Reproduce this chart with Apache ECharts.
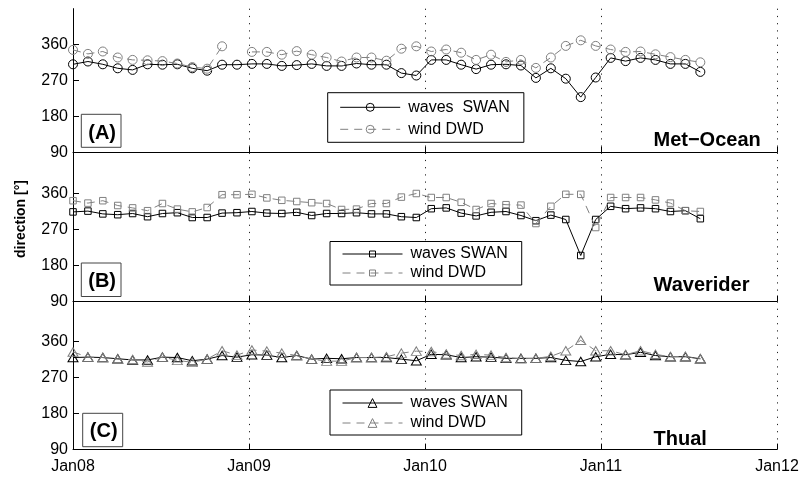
<!DOCTYPE html>
<html>
<head>
<meta charset="utf-8">
<script src="https://cdn.jsdelivr.net/npm/echarts@6/dist/echarts.min.js"></script>
<style>
  html, body { margin: 0; padding: 0; background: #fff; }
  #chart { width: 803px; height: 477px; }
</style>
</head>
<body>
<div id="chart"></div>
<script>
// Sampling dates of the monthly (31-day) direction means
const sampleDates = [
  '2008-01-01','2008-02-01','2008-03-03','2008-04-03','2008-05-04','2008-06-04','2008-07-05',
  '2008-08-05','2008-09-05','2008-10-06','2008-11-06','2008-12-07','2009-01-07','2009-02-07',
  '2009-03-10','2009-04-10','2009-05-11','2009-06-11','2009-07-12','2009-08-12','2009-09-12',
  '2009-10-13','2009-11-13','2009-12-14','2010-01-14','2010-02-14','2010-03-17','2010-04-17',
  '2010-05-18','2010-06-18','2010-07-19','2010-08-19','2010-09-19','2010-10-20','2010-11-20',
  '2010-12-21','2011-01-21','2011-02-21','2011-03-24','2011-04-24','2011-05-25','2011-06-25',
  '2011-07-26'
];
const yearTickLabels = ['Jan08', 'Jan09', 'Jan10', 'Jan11', 'Jan12'];
const directionTicks = [90, 180, 270, 360];

// Mean directions [deg]
const metOceanWaves = [311, 318, 311, 301, 297, 311, 310, 311, 301, 295, 310, 310, 312, 312, 307, 309, 312, 307, 307, 313, 310, 310,
                       289, 283, 322, 322, 310, 299, 310, 311, 308, 277, 301, 275, 229, 278, 327, 319, 327, 322, 312, 312, 292];
const metOceanWind  = [347, 337, 343, 328, 322, 321, 319, 313, 304, 300, 356, null, 342, 342, 335, 344, 335, 328, 318, 328, 328, 320,
                       350, 356, 343, 348, 340, 322, 335, 317, 322, 302, 328, 357, 371, 357, 348, 342, 343, 336, 329, 322, 316];

const waveriderWaves = [314, 316, 309, 307, 310, 302, 310, 312, 300, 300, 311, 312, 315, 311, 310, 313, 305, 310, 310, 312, 309, 309,
                        302, 300, 322, 324, 311, 304, 313, 315, 305, 292, 306, 295, 205, 295, 328, 322, 324, 322, 315, 317, 297];
const waveriderWind  = [342, 336, 342, 330, 324, 317, 335, 321, 314, 325, 357, 357, 358, 349, 343, 340, 337, 335, 320, 321, 335, 335,
                        351, 360, 350, 350, 338, 320, 335, 332, 331, 285, 328, 358, 358, 275, 350, 350, 350, 344, 336, 317, 315];

const thualWaves = [320, 321, 320, 317, 314, 314, 321, 320, 312, 316, 325, 321, 327, 326, 320, 325, 316, 318, 317, 320, 320, 320,
                    316, 312, 328, 327, 320, 322, 321, 318, 318, 318, 320, 313, 310, 322, 328, 327, 333, 325, 322, 322, 317];
const thualWind  = [334, 321, 320, 316, 315, 309, 321, 313, 308, 316, 337, 326, 339, 336, 331, 325, 316, 311, 311, 320, 320, 322,
                    331, 336, 335, 329, 325, 328, 326, 320, 317, 318, 323, 337, 363, 337, 337, 327, 337, 328, 322, 323, 317];

const panelNames = ['Met\u2212Ocean', 'Waverider', 'Thual'];
const panelTags = ['(A)', '(B)', '(C)'];
const wavesLabels = ['waves  SWAN', 'waves SWAN', 'waves SWAN'];
const windLabel = 'wind DWD';

// date string -> decimal year
function toYear(s) {
  const p = s.split('-').map(Number);
  const t0 = Date.UTC(p[0], 0, 1), t1 = Date.UTC(p[0] + 1, 0, 1);
  return p[0] + (Date.UTC(p[0], p[1] - 1, p[2]) - t0) / (t1 - t0);
}
const xs = sampleDates.map(toYear);
const pair = arr => arr.map((v, i) => [xs[i], v]);

const FONT = '"Liberation Sans", Arial, Helvetica, sans-serif';
const GREY = '#808080';

// panel layout
const panels = [
  { top: 8.7,   bottom: 152.7, yMax: 450, symbol: 'circle',   size: 9,        legendTop: 92.7, legendLeft: 327.7, lgap: 6, lpad: [6.6, 14, 5, 12], iconH: 10 },
  { top: 152.7, bottom: 301.5, yMax: 462, symbol: 'rect',     size: 6.5,      legendTop: 241.5, legendLeft: 330, lgap: 3, lpad: [4.5, 14, 4, 12], iconH: 7.5 },
  { top: 301.5, bottom: 449.6, yMax: 460, symbol: 'triangle', size: [10, 8.5], legendTop: 390, legendLeft: 330, lgap: 4, lpad: [5, 14, 4, 12], iconH: 11 }
];
const wavesData = [metOceanWaves, waveriderWaves, thualWaves];
const windData = [metOceanWind, waveriderWind, thualWind];

const grids = [], xAxes = [], yAxes = [], series = [], legends = [];
panels.forEach((p, i) => {
  grids.push({ left: 73, width: 704, top: p.top, height: p.bottom - p.top });
  xAxes.push({
    type: 'value', gridIndex: i, min: 2008, max: 2012, interval: 1,
    axisLine: { show: true, onZero: false, lineStyle: { color: '#000', width: 1 } },
    axisTick: { show: true, inside: true, length: 6, lineStyle: { color: '#000' } },
    axisLabel: {
      show: i === 2, color: '#000', fontFamily: FONT, fontSize: 16, margin: 9,
      formatter: v => yearTickLabels[Math.round(v - 2008)]
    },
    splitLine: { show: true, lineStyle: { color: '#222', width: 1, type: [1.2, 6] } }
  });
  yAxes.push({
    type: 'value', gridIndex: i, min: 90, max: p.yMax, interval: 90,
    axisLine: { show: true, lineStyle: { color: '#000', width: 1 } },
    axisTick: { show: true, inside: true, length: 6, customValues: directionTicks, lineStyle: { color: '#000' } },
    axisLabel: { color: '#000', fontFamily: FONT, fontSize: 16, margin: 5, customValues: directionTicks },
    splitLine: { show: false }
  });
  series.push({
    name: 'waves' + i, type: 'line', xAxisIndex: i, yAxisIndex: i,
    data: pair(wavesData[i]),
    symbol: p.symbol, symbolSize: p.size, showSymbol: true,
    lineStyle: { color: '#000', width: 1 },
    itemStyle: { color: 'rgba(0,0,0,0)', borderColor: '#000', borderWidth: 1 },
    emphasis: { disabled: true }, z: 2
  });
  series.push({
    name: 'wind' + i, type: 'line', xAxisIndex: i, yAxisIndex: i,
    data: pair(windData[i]), connectNulls: false,
    symbol: p.symbol, symbolSize: p.size, showSymbol: true,
    lineStyle: { color: GREY, width: 1, type: [8, 6] },
    itemStyle: { color: 'rgba(0,0,0,0)', borderColor: GREY, borderWidth: 1 },
    emphasis: { disabled: true }, z: 3
  });
  legends.push({
    data: ['waves' + i, 'wind' + i], orient: 'vertical',
    left: p.legendLeft, top: p.legendTop,
    padding: p.lpad, itemGap: p.lgap, itemWidth: 60, itemHeight: p.iconH,
    backgroundColor: '#fff', borderColor: '#000', borderWidth: 1, borderRadius: 0,
    selectedMode: false,
    lineStyle: { width: 1 },
    itemStyle: { borderWidth: 1 },
    formatter: name => name.startsWith('waves') ? wavesLabels[i] : windLabel,
    textStyle: { color: '#000', fontFamily: FONT, fontSize: 16, lineHeight: 16, padding: [0, 0, 0, 3] }
  });
});

// panel tags, station names, axis title
const tagBoxes = [
  { x: 81.3, y: 114.3, w: 39.7, h: 33, ty: 133.5 },
  { x: 81.3, y: 263, w: 39.7, h: 33.5, ty: 281.5 },
  { x: 82.7, y: 413.3, w: 40, h: 33.4, ty: 431.5 }
];
const nameY = [140.5, 285.5, 439.5];
const graphics = [];
tagBoxes.forEach((b, i) => {
  graphics.push({ type: 'rect', z: 50, shape: { x: b.x, y: b.y, width: b.w, height: b.h },
    style: { fill: '#fff', stroke: '#444', lineWidth: 1 } });
  graphics.push({ type: 'text', z: 51, x: b.x + b.w / 2 + 1, y: b.ty,
    style: { text: panelTags[i], font: 'bold 20px ' + FONT, fill: '#000', align: 'center', verticalAlign: 'middle' } });
  graphics.push({ type: 'text', z: 51, x: 653.5, y: nameY[i],
    style: { text: panelNames[i], font: 'bold 20px ' + FONT, fill: '#000', align: 'left', verticalAlign: 'middle' } });
});
graphics.push({ type: 'text', z: 51, x: 21, y: 219, rotation: Math.PI / 2,
  style: { text: 'direction [\u00b0]', font: 'bold 14px ' + FONT, fill: '#000', align: 'center', verticalAlign: 'middle' } });

const chart = echarts.init(document.getElementById('chart'), null, { renderer: 'canvas' });
chart.setOption({
  animation: false,
  backgroundColor: '#fff',
  grid: grids, xAxis: xAxes, yAxis: yAxes,
  series: series, legend: legends, graphic: graphics
});
</script>
</body>
</html>
